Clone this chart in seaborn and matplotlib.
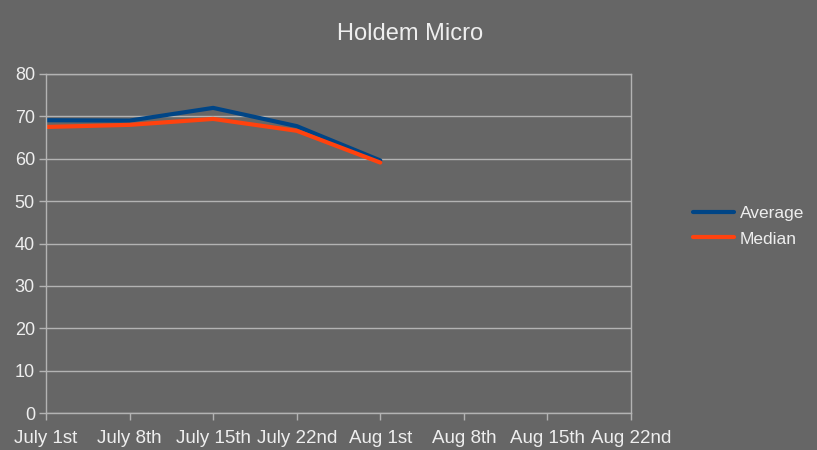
import pandas as pd
import seaborn as sns
import matplotlib.pyplot as plt

dates = ['July 1st', 'July 8th', 'July 15th', 'July 22nd', 'Aug 1st',
         'Aug 8th', 'Aug 15th', 'Aug 22nd']
average = [69.1, 69.0, 72.0, 67.7, 59.6]
median = [67.5, 68.0, 69.4, 66.6, 59.1]

bg = '#666666'
txt = '#eeeeee'
grid = '#b3b3b3'

df = pd.DataFrame({
    'pos': list(range(len(average))) * 2,
    'value': average + median,
    'series': ['Average'] * len(average) + ['Median'] * len(median),
})

sns.set_style('white')
plt.rcParams['font.family'] = ['Liberation Sans', 'DejaVu Sans']

fig = plt.figure(figsize=(8.17, 4.5), dpi=100, facecolor=bg)
ax = fig.add_axes([46 / 817, 37 / 450, 585 / 817, 339 / 450])
ax.set_facecolor(bg)

sns.lineplot(data=df, x='pos', y='value', hue='series',
             palette={'Average': '#004586', 'Median': '#ff420e'},
             linewidth=3, ax=ax)

ax.set_xlim(0, len(dates) - 1)
ax.set_ylim(0, 80)
ax.set_xticks(range(len(dates)))
ax.set_xticklabels(dates)
ax.set_yticks(range(0, 81, 10))
ax.yaxis.grid(True, color=grid, linewidth=1)
ax.set_axisbelow(True)
for s in ax.spines.values():
    s.set_color(grid)
    s.set_linewidth(1)
ax.tick_params(axis='both', colors=grid, labelcolor=txt,
               length=5, width=1, direction='out')
ax.tick_params(axis='x', labelsize=13.5, pad=7)
ax.tick_params(axis='y', labelsize=13, pad=3)
ax.tick_params(left=True, bottom=True)
ax.set_xlabel('')
ax.set_ylabel('')

fig.text(410 / 817, 1 - 34 / 450, 'Holdem Micro', color=txt, fontsize=17,
         ha='center', va='center')

leg = ax.legend(loc='center left', bbox_to_anchor=(693 / 817, 1 - 226 / 450),
                bbox_transform=fig.transFigure, borderaxespad=0, borderpad=0,
                frameon=False, fontsize=12.5, handlelength=2.35,
                handletextpad=0.35, labelspacing=0.62)
for t in leg.get_texts():
    t.set_color(txt)
for h in leg.get_lines():
    h.set_linewidth(3)

fig.savefig('out.png', dpi=100, facecolor=bg)
